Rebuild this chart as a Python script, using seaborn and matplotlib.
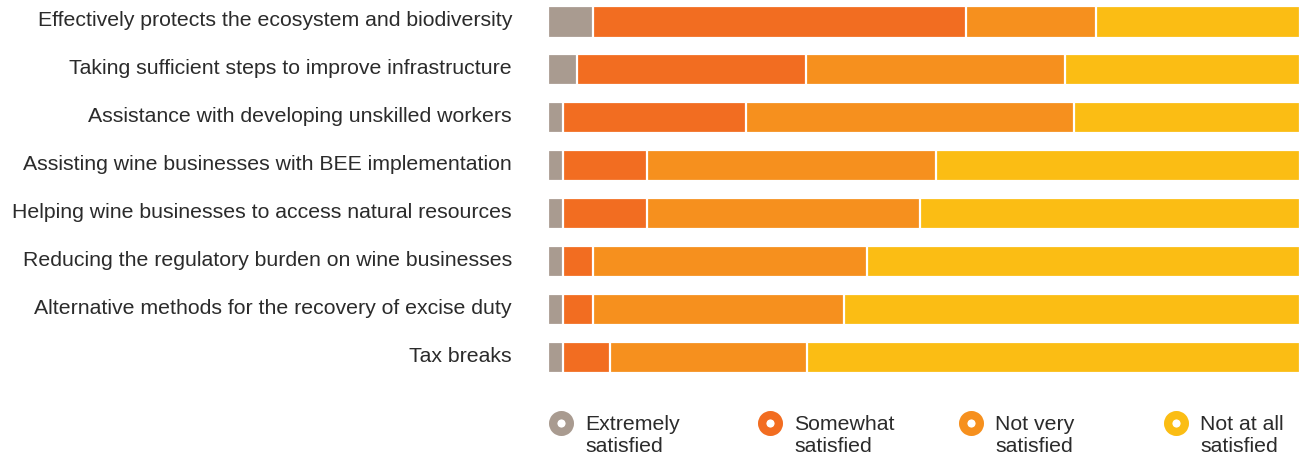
import matplotlib
matplotlib.use("Agg")
import matplotlib.pyplot as plt
from matplotlib.lines import Line2D
import matplotlib.transforms as mtransforms
import pandas as pd
import seaborn as sns

categories = [
    "Effectively protects the ecosystem and biodiversity",
    "Taking sufficient steps to improve infrastructure",
    "Assistance with developing unskilled workers",
    "Assisting wine businesses with BEE implementation",
    "Helping wine businesses to access natural resources",
    "Reducing the regulatory burden on wine businesses",
    "Alternative methods for the recovery of excise duty",
    "Tax breaks",
]
extremely = [6.0, 3.9, 2.0, 2.0, 2.0, 2.0, 2.0, 2.0]
somewhat = [49.6, 30.4, 24.3, 11.1, 11.1, 4.0, 4.0, 6.2]
not_very = [17.3, 34.4, 43.6, 38.5, 36.4, 36.4, 33.4, 26.3]
not_at_all = [27.1, 31.3, 30.1, 48.4, 50.5, 57.6, 60.6, 65.5]

series_names = ["Extremely\nsatisfied", "Somewhat\nsatisfied", "Not very\nsatisfied", "Not at all\nsatisfied"]
colors = ["#A99B90", "#F26D21", "#F6901E", "#FBBD14"]

df = pd.DataFrame({"item": categories, "s0": extremely, "s1": somewhat,
                   "s2": not_very, "s3": not_at_all})
cols = ["s0", "s1", "s2", "s3"]
cum = df[cols].cumsum(axis=1)

plt.rcParams["font.family"] = ["Liberation Sans", "DejaVu Sans"]
W, H = 1308, 459
fig = plt.figure(figsize=(W / 100, H / 100), dpi=100)
ax = fig.add_axes([548 / W, 0.179, 752 / W, 0.815])

# stacked bars: cumulative totals drawn back to front
for i in range(3, -1, -1):
    sns.barplot(x=cum[cols[i]], y=df["item"], orient="h", color=colors[i],
                width=0.65, edgecolor="white", linewidth=1.6, ax=ax, saturation=1)

ax.set_xlim(0, 100)
ax.set_ylim(7.4, -0.4)
ax.set_xlabel("")
ax.set_ylabel("")
ax.set_xticks([])
ax.tick_params(axis="y", length=0, pad=26, labelsize=15.3, labelcolor="#2b2b2b")
for s in ax.spines.values():
    s.set_visible(False)
shift = mtransforms.ScaledTranslation(0, 3 / 100, fig.dpi_scale_trans)
for lbl in ax.get_yticklabels():
    lbl.set_transform(lbl.get_transform() + shift)

# legend: ring markers with two-line labels
leg_x = [561, 770, 971, 1176]
for name, c, xp in zip(series_names, colors, leg_x):
    fig.add_artist(Line2D([xp / W], [1 - 423 / H], transform=fig.transFigure,
                          marker="o", linestyle="", markersize=12,
                          markerfacecolor="white", markeredgecolor=c,
                          markeredgewidth=6))
    fig.text((xp + 24) / W, 1 - 435.5 / H, name, ha="left", va="center",
             fontsize=15.3, color="#2b2b2b", linespacing=1.25)

fig.savefig("out.png", dpi=100)
